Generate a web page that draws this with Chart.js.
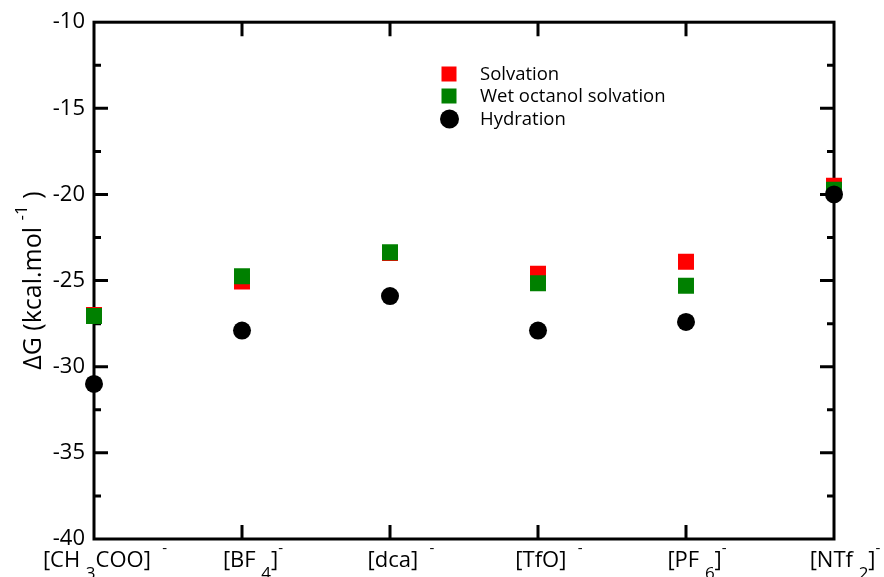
<!DOCTYPE html>
<html><head><meta charset="utf-8">
<script src="https://cdn.jsdelivr.net/npm/chart.js@4/dist/chart.umd.min.js"></script>
<style>html,body{margin:0;padding:0;background:#fff;}#wrap{width:884px;height:577px;}</style>
</head><body><div id="wrap"><canvas id="c" width="884" height="577"></canvas></div>
<script>
// ---- data ----
const categories = ['[CH3COO]-', '[BF4]-', '[dca]-', '[TfO]-', '[PF6]-', '[NTf2]-'];
// rich label parts: [text, kind] kind: '' normal, 'sub', 'sup'
const categoryParts = [
  [['[CH ', ''], ['3', 'sub'], ['COO]  ', ''], ['-', 'sup']],
  [['[BF ', ''], ['4', 'sub'], [']', ''], ['-', 'sup']],
  [['[dca]  ', ''], ['-', 'sup']],
  [['[TfO]  ', ''], ['-', 'sup']],
  [['[PF ', ''], ['6', 'sub'], [']', ''], ['-', 'sup']],
  [['[NTf ', ''], ['2', 'sub'], [']', ''], ['-', 'sup']]
];
const seriesNames = ['Solvation', 'Wet octanol solvation', 'Hydration'];
const solvation  = [-27.0, -25.05, -23.4, -24.6, -23.9, -19.5];
const wetOctanol = [-27.05, -24.75, -23.35, -25.15, -25.3, -19.72];
const hydration  = [-31.0, -27.9, -25.9, -27.9, -27.4, -20.0];
const yTicks = [-40, -35, -30, -25, -20, -15, -10];
const yTitleParts = [['\u0394G (kcal.mol ', ''], ['-1', 'sup'], [' )', '']];

const FONT = '"Open Sans", "DejaVu Sans", sans-serif';

const framePlugin = {
  id: 'frame',
  beforeDatasetsDraw(chart) {
    const { ctx, chartArea: { left, right, top, bottom }, scales: { x, y } } = chart;
    ctx.save();
    ctx.strokeStyle = '#000';
    ctx.lineWidth = 3;
    ctx.lineCap = 'butt';
    ctx.beginPath();
    for (let i = 0; i < yTicks.length; i++) {
      const v = yTicks[i];
      if (i > 0 && i < yTicks.length - 1) {
        const py = y.getPixelForValue(v);
        ctx.moveTo(left, py); ctx.lineTo(left + 14, py);
        ctx.moveTo(right, py); ctx.lineTo(right - 14, py);
      }
      if (i < yTicks.length - 1) {
        const pm = y.getPixelForValue((v + yTicks[i + 1]) / 2);
        ctx.moveTo(left, pm); ctx.lineTo(left + 7, pm);
        ctx.moveTo(right, pm); ctx.lineTo(right - 7, pm);
      }
    }
    for (let i = 1; i < categories.length - 1; i++) {
      const px = x.getPixelForValue(i);
      ctx.moveTo(px, bottom); ctx.lineTo(px, bottom - 14);
      ctx.moveTo(px, top); ctx.lineTo(px, top + 14);
    }
    ctx.stroke();
    ctx.lineJoin = 'miter';
    ctx.strokeRect(left, top, right - left, bottom - top);
    ctx.restore();
  },
  afterDraw(chart) {
    const { ctx, chartArea: { top, bottom }, scales: { x } } = chart;
    ctx.save();
    ctx.fillStyle = '#000';
    ctx.textBaseline = 'alphabetic';
    ctx.textAlign = 'left';
    const fontFor = k => (k === '' ? '22px ' : (k === 'sub' ? '17px ' : '15px ')) + FONT;
    // x labels
    categoryParts.forEach((parts, i) => {
      let w = 0;
      parts.forEach(([t, k]) => { ctx.font = fontFor(k); w += ctx.measureText(t).width; });
      let cx = x.getPixelForValue(i) + 11 - w / 2;
      parts.forEach(([t, k]) => {
        ctx.font = fontFor(k);
        const by = k === 'sub' ? 579 : (k === 'sup' ? 553 : 567);
        ctx.fillText(t, cx, by);
        cx += ctx.measureText(t).width;
      });
    });
    // y title
    ctx.save();
    ctx.translate(0, (top + bottom) / 2);
    ctx.rotate(-Math.PI / 2);
    let tw = 0;
    const tFont = k => (k === '' ? '25px ' : '17px ') + FONT;
    yTitleParts.forEach(([t, k]) => { ctx.font = tFont(k); tw += ctx.measureText(t).width; });
    let tx = -tw / 2;
    yTitleParts.forEach(([t, k]) => {
      ctx.font = tFont(k);
      ctx.fillText(t, tx, k === 'sup' ? 27 : 41);
      tx += ctx.measureText(t).width;
    });
    ctx.restore();
    // legend
    const ds = chart.data.datasets;
    const legY = [74, 96, 119];
    ctx.font = '18.5px ' + FONT;
    ctx.textBaseline = 'middle';
    seriesNames.forEach((name, i) => {
      const d = ds[i];
      ctx.fillStyle = d.backgroundColor;
      if (d.pointStyle === 'rect') {
        ctx.fillRect(449 - 7.5, legY[i] - 7.5, 15, 15);
      } else {
        ctx.beginPath(); ctx.arc(449.5, legY[i], 9.5, 0, Math.PI * 2); ctx.fill();
      }
      ctx.fillStyle = '#000';
      ctx.fillText(name, 480, legY[i] + 1);
    });
    ctx.restore();
  }
};

new Chart(document.getElementById('c'), {
  type: 'line',
  data: {
    labels: categories,
    datasets: [
      { label: seriesNames[0], data: solvation, showLine: false, pointStyle: 'rect', pointRadius: 11.3, pointHoverRadius: 11.3,
        backgroundColor: '#ff0000', borderColor: '#ff0000', pointBorderWidth: 0, order: 3 },
      { label: seriesNames[1], data: wetOctanol, showLine: false, pointStyle: 'rect', pointRadius: 11.3, pointHoverRadius: 11.3,
        backgroundColor: '#008000', borderColor: '#008000', pointBorderWidth: 0, order: 2 },
      { label: seriesNames[2], data: hydration, showLine: false, pointStyle: 'circle', pointRadius: 9, pointHoverRadius: 9,
        backgroundColor: '#000000', borderColor: '#000000', pointBorderWidth: 0, order: 1 }
    ]
  },
  options: {
    responsive: false,
    animation: false,
    devicePixelRatio: 1,
    layout: { padding: { top: 20, right: 50, left: 0, bottom: 0 } },
    plugins: { legend: { display: false }, tooltip: { enabled: false } },
    scales: {
      x: {
        type: 'category', offset: false,
        grid: { display: false, drawTicks: false }, border: { display: false },
        ticks: { display: false },
        afterFit(s) { s.height = 38; }
      },
      y: {
        min: yTicks[0], max: yTicks[yTicks.length - 1],
        grid: { display: false, drawTicks: false, tickLength: 0 }, border: { display: false },
        ticks: { stepSize: 5, color: '#000', padding: 9, font: { family: FONT, size: 22 },
          callback: v => String(v) },
        afterFit(s) { s.width = 94; }
      }
    }
  },
  plugins: [framePlugin]
});
</script>
</body></html>
